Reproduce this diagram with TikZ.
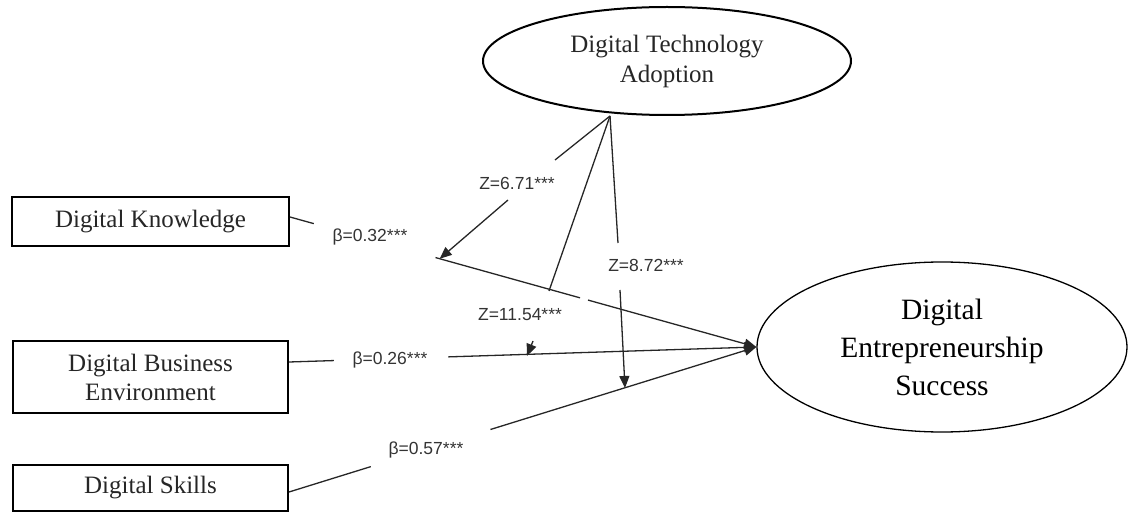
\documentclass[tikz,border=0pt]{standalone}
\usepackage{fontspec}
\setmainfont{Liberation Serif}
\newfontfamily\labfont{Liberation Sans}
\usetikzlibrary{arrows.meta,calc,shapes.geometric}
\begin{document}
\begin{tikzpicture}[x=1pt,y=-1pt,
  box/.style={draw,line width=2pt,rectangle,inner sep=0pt,align=center,text=black!85,
    font=\fontsize{25}{29}\selectfont},
  dtaell/.style={draw,line width=2pt,ellipse,inner sep=0pt,align=center,text=black!85,
    minimum width=368pt,minimum height=108pt,font=\fontsize{25}{30}\selectfont},
  desell/.style={draw,line width=1.3pt,ellipse,inner sep=0pt,align=center,
    minimum width=370pt,minimum height=170pt,font=\fontsize{29.5}{38}\selectfont},
  lab/.style={inner sep=0pt,text=black!80,font=\labfont\fontsize{17.5}{18}\selectfont},
  conn/.style={line width=1.3pt,black!85},
  arr/.style={conn,-{Triangle[length=12pt,width=10pt]}}]
\useasboundingbox (0,0) rectangle (1128,513);

% nodes
\node[box,minimum width=277pt,minimum height=49pt] (dk) at (150.5,221.5) {Digital Knowledge};
\node[box,minimum width=275pt,minimum height=72pt] (dbe) at (150.5,377) {Digital Business\\Environment};
\node[box,minimum width=275pt,minimum height=46pt] (ds) at (150.5,488) {Digital Skills};
\node[dtaell] (dta) at (667,61) {Digital Technology\\Adoption};
\node[desell] (des) at (942,347) {Digital\\Entrepreneurship\\Success};

% labels
\node[lab] (b1) at (370,237) {β=0.32***};
\node[lab] (b2) at (390,360) {β=0.26***};
\node[lab] (b3) at (426,450) {β=0.57***};
\node[lab] (z1) at (517,183) {Z=6.71***};
\node[lab] (z2) at (520,315) {Z=11.54***};
\node[lab] (z3) at (646,265) {Z=8.72***};

% coordinates
\coordinate (a1) at ($(dk.east)+(0,-4.5)$);
\coordinate (a2) at ($(dbe.east)+(0,-15)$);
\coordinate (a3) at ($(ds.east)+(0,4)$);
\coordinate (apex) at (610,116);

% direct paths
\draw[conn] (a1) -- ($(a1)!0.051!(des.west)$);
\draw[conn] ($(a1)!0.312!(des.west)$) -- ($(a1)!0.622!(des.west)$);
\draw[arr] ($(a1)!0.639!(des.west)$) -- (des.west);

\draw[conn] (a2) -- ($(a2)!0.096!(des.west)$);
\draw[arr] ($(a2)!0.341!(des.west)$) -- (des.west);

\draw[conn] (a3) -- ($(a3)!0.175!(des.west)$);
\draw[arr] ($(a3)!0.431!(des.west)$) -- (des.west);

% moderation paths
\coordinate (z1s) at (555,160);
\coordinate (z1a) at (508,200);
\coordinate (z1t) at ($(a1)!0.321!(des.west)$);
\draw[conn] (apex) -- (z1s);
\draw[arr] (z1a) -- (z1t);

\coordinate (z2s) at (549,291);
\coordinate (z2a) at (533,341);
\coordinate (z2t) at (527,356);
\draw[conn] (apex) -- (z2s);
\draw[arr] (z2a) -- (z2t);

\coordinate (z3s) at (618,243);
\coordinate (z3a) at (620,290);
\coordinate (z3t) at (625,388);
\draw[conn] (apex) -- (z3s);
\draw[arr] (z3a) -- (z3t);
\end{tikzpicture}
\end{document}
